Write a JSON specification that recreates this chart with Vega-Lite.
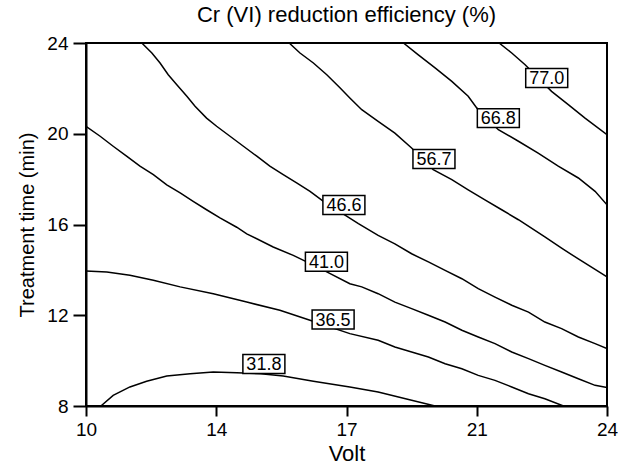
{
  "$schema": "https://vega.github.io/schema/vega-lite/v6.json",
  "width": 521,
  "height": 363,
  "autosize": {"type": "none"},
  "padding": {"left": 86, "top": 43, "right": 11, "bottom": 59},
  "config": {
    "font": "Liberation Sans",
    "view": {"stroke": "black", "strokeWidth": 2},
    "axis": {"grid": false, "domainColor": "black", "domainWidth": 2, "tickColor": "black", "tickWidth": 2, "labelColor": "black", "titleColor": "black", "labelFont": "Liberation Sans", "titleFont": "Liberation Sans", "titleFontWeight": "normal"}
  },
  "title": {"text": "Cr (VI) reduction efficiency (%)", "fontSize": 22, "fontWeight": "normal", "font": "Liberation Sans", "color": "black", "offset": 7},
  "datasets": {
    "lines": [
      {"level": "31.8", "volt": 10.40, "time": 8.0},
      {"level": "31.8", "volt": 10.73, "time": 8.47},
      {"level": "31.8", "volt": 11.18, "time": 8.84},
      {"level": "31.8", "volt": 11.63, "time": 9.09},
      {"level": "31.8", "volt": 12.17, "time": 9.32},
      {"level": "31.8", "volt": 12.80, "time": 9.42},
      {"level": "31.8", "volt": 13.42, "time": 9.50},
      {"level": "31.8", "volt": 14.05, "time": 9.47},
      {"level": "31.8", "volt": 14.70, "time": 9.42},
      {"level": "31.8", "volt": 15.30, "time": 9.32},
      {"level": "31.8", "volt": 16.11, "time": 9.09},
      {"level": "31.8", "volt": 17.09, "time": 8.84},
      {"level": "31.8", "volt": 17.85, "time": 8.62},
      {"level": "31.8", "volt": 18.75, "time": 8.25},
      {"level": "31.8", "volt": 19.38, "time": 8.0},

      {"level": "36.5", "volt": 10.0, "time": 13.95},
      {"level": "36.5", "volt": 10.56, "time": 13.91},
      {"level": "36.5", "volt": 11.18, "time": 13.76},
      {"level": "36.5", "volt": 11.81, "time": 13.54},
      {"level": "36.5", "volt": 12.53, "time": 13.25},
      {"level": "36.5", "volt": 13.42, "time": 12.95},
      {"level": "36.5", "volt": 14.32, "time": 12.58},
      {"level": "36.5", "volt": 15.21, "time": 12.22},
      {"level": "36.5", "volt": 16.02, "time": 11.78},
      {"level": "36.5", "volt": 17.09, "time": 11.19},
      {"level": "36.5", "volt": 17.85, "time": 10.90},
      {"level": "36.5", "volt": 18.30, "time": 10.60},
      {"level": "36.5", "volt": 18.75, "time": 10.38},
      {"level": "36.5", "volt": 19.20, "time": 10.16},
      {"level": "36.5", "volt": 19.65, "time": 9.86},
      {"level": "36.5", "volt": 20.10, "time": 9.64},
      {"level": "36.5", "volt": 20.54, "time": 9.35},
      {"level": "36.5", "volt": 20.99, "time": 9.13},
      {"level": "36.5", "volt": 21.44, "time": 8.84},
      {"level": "36.5", "volt": 21.89, "time": 8.54},
      {"level": "36.5", "volt": 22.33, "time": 8.32},
      {"level": "36.5", "volt": 22.83, "time": 8.0},

      {"level": "41.0", "volt": 10.0, "time": 20.33},
      {"level": "41.0", "volt": 10.38, "time": 19.89},
      {"level": "41.0", "volt": 10.73, "time": 19.45},
      {"level": "41.0", "volt": 11.09, "time": 19.01},
      {"level": "41.0", "volt": 11.45, "time": 18.57},
      {"level": "41.0", "volt": 11.81, "time": 18.20},
      {"level": "41.0", "volt": 12.17, "time": 17.75},
      {"level": "41.0", "volt": 12.53, "time": 17.39},
      {"level": "41.0", "volt": 12.88, "time": 17.02},
      {"level": "41.0", "volt": 13.24, "time": 16.65},
      {"level": "41.0", "volt": 13.60, "time": 16.29},
      {"level": "41.0", "volt": 14.05, "time": 15.88},
      {"level": "41.0", "volt": 14.32, "time": 15.59},
      {"level": "41.0", "volt": 15.03, "time": 15.01},
      {"level": "41.0", "volt": 15.57, "time": 14.64},
      {"level": "41.0", "volt": 15.93, "time": 14.35},
      {"level": "41.0", "volt": 16.47, "time": 13.91},
      {"level": "41.0", "volt": 17.09, "time": 13.39},
      {"level": "41.0", "volt": 17.41, "time": 13.25},
      {"level": "41.0", "volt": 17.85, "time": 12.95},
      {"level": "41.0", "volt": 18.30, "time": 12.58},
      {"level": "41.0", "volt": 18.75, "time": 12.29},
      {"level": "41.0", "volt": 19.20, "time": 12.00},
      {"level": "41.0", "volt": 19.65, "time": 11.70},
      {"level": "41.0", "volt": 20.10, "time": 11.34},
      {"level": "41.0", "volt": 20.54, "time": 11.04},
      {"level": "41.0", "volt": 20.99, "time": 10.75},
      {"level": "41.0", "volt": 21.44, "time": 10.38},
      {"level": "41.0", "volt": 21.89, "time": 10.09},
      {"level": "41.0", "volt": 22.33, "time": 9.79},
      {"level": "41.0", "volt": 22.78, "time": 9.50},
      {"level": "41.0", "volt": 23.23, "time": 9.20},
      {"level": "41.0", "volt": 23.68, "time": 8.91},
      {"level": "41.0", "volt": 24.0, "time": 8.81},

      {"level": "46.6", "volt": 11.50, "time": 24.0},
      {"level": "46.6", "volt": 11.77, "time": 23.56},
      {"level": "46.6", "volt": 11.99, "time": 23.12},
      {"level": "46.6", "volt": 12.21, "time": 22.60},
      {"level": "46.6", "volt": 12.44, "time": 22.16},
      {"level": "46.6", "volt": 12.71, "time": 21.65},
      {"level": "46.6", "volt": 12.93, "time": 21.21},
      {"level": "46.6", "volt": 13.24, "time": 20.69},
      {"level": "46.6", "volt": 13.51, "time": 20.33},
      {"level": "46.6", "volt": 13.87, "time": 19.89},
      {"level": "46.6", "volt": 14.23, "time": 19.45},
      {"level": "46.6", "volt": 14.59, "time": 19.01},
      {"level": "46.6", "volt": 14.94, "time": 18.57},
      {"level": "46.6", "volt": 15.30, "time": 18.20},
      {"level": "46.6", "volt": 15.66, "time": 17.83},
      {"level": "46.6", "volt": 16.02, "time": 17.46},
      {"level": "46.6", "volt": 16.38, "time": 17.02},
      {"level": "46.6", "volt": 17.32, "time": 16.04},
      {"level": "46.6", "volt": 17.85, "time": 15.52},
      {"level": "46.6", "volt": 18.30, "time": 15.15},
      {"level": "46.6", "volt": 18.75, "time": 14.71},
      {"level": "46.6", "volt": 19.20, "time": 14.35},
      {"level": "46.6", "volt": 19.65, "time": 13.98},
      {"level": "46.6", "volt": 20.10, "time": 13.61},
      {"level": "46.6", "volt": 20.54, "time": 13.17},
      {"level": "46.6", "volt": 20.99, "time": 12.80},
      {"level": "46.6", "volt": 21.44, "time": 12.44},
      {"level": "46.6", "volt": 21.89, "time": 12.14},
      {"level": "46.6", "volt": 22.33, "time": 11.70},
      {"level": "46.6", "volt": 22.78, "time": 11.41},
      {"level": "46.6", "volt": 23.23, "time": 11.04},
      {"level": "46.6", "volt": 23.68, "time": 10.75},
      {"level": "46.6", "volt": 24.0, "time": 10.53},

      {"level": "56.7", "volt": 15.46, "time": 24.0},
      {"level": "56.7", "volt": 15.75, "time": 23.56},
      {"level": "56.7", "volt": 16.11, "time": 23.12},
      {"level": "56.7", "volt": 16.47, "time": 22.60},
      {"level": "56.7", "volt": 16.83, "time": 22.02},
      {"level": "56.7", "volt": 17.09, "time": 21.58},
      {"level": "56.7", "volt": 17.41, "time": 21.06},
      {"level": "56.7", "volt": 17.85, "time": 20.55},
      {"level": "56.7", "volt": 18.30, "time": 20.03},
      {"level": "56.7", "volt": 18.75, "time": 19.37},
      {"level": "56.7", "volt": 19.33, "time": 18.42},
      {"level": "56.7", "volt": 19.83, "time": 17.98},
      {"level": "56.7", "volt": 20.27, "time": 17.53},
      {"level": "56.7", "volt": 20.72, "time": 17.09},
      {"level": "56.7", "volt": 21.17, "time": 16.65},
      {"level": "56.7", "volt": 21.62, "time": 16.21},
      {"level": "56.7", "volt": 22.33, "time": 15.45},
      {"level": "56.7", "volt": 22.78, "time": 14.96},
      {"level": "56.7", "volt": 23.23, "time": 14.48},
      {"level": "56.7", "volt": 23.68, "time": 14.02},
      {"level": "56.7", "volt": 24.0, "time": 13.69},

      {"level": "66.8", "volt": 18.53, "time": 24.0},
      {"level": "66.8", "volt": 18.93, "time": 23.48},
      {"level": "66.8", "volt": 19.38, "time": 22.90},
      {"level": "66.8", "volt": 19.83, "time": 22.31},
      {"level": "66.8", "volt": 20.27, "time": 21.65},
      {"level": "66.8", "volt": 20.50, "time": 21.14},
      {"level": "66.8", "volt": 21.08, "time": 20.18},
      {"level": "66.8", "volt": 21.62, "time": 19.67},
      {"level": "66.8", "volt": 22.15, "time": 19.15},
      {"level": "66.8", "volt": 22.69, "time": 18.57},
      {"level": "66.8", "volt": 23.23, "time": 18.05},
      {"level": "66.8", "volt": 23.68, "time": 17.46},
      {"level": "66.8", "volt": 24.0, "time": 16.87},

      {"level": "77.0", "volt": 21.10, "time": 24.0},
      {"level": "77.0", "volt": 21.44, "time": 23.56},
      {"level": "77.0", "volt": 21.80, "time": 23.04},
      {"level": "77.0", "volt": 22.51, "time": 21.87},
      {"level": "77.0", "volt": 22.96, "time": 21.28},
      {"level": "77.0", "volt": 23.41, "time": 20.69},
      {"level": "77.0", "volt": 24.0, "time": 19.96}
    ],
    "labels": [
      {"level": "77.0", "volt": 22.38, "time": 22.46},
      {"level": "66.8", "volt": 21.08, "time": 20.69},
      {"level": "56.7", "volt": 19.35, "time": 18.89},
      {"level": "46.6", "volt": 16.93, "time": 16.86},
      {"level": "41.0", "volt": 16.46, "time": 14.36},
      {"level": "36.5", "volt": 16.64, "time": 11.81},
      {"level": "31.8", "volt": 14.78, "time": 9.85}
    ]
  },
  "encoding": {
    "x": {"field": "volt", "type": "quantitative", "title": "Volt",
      "scale": {"domain": [10, 24], "nice": false, "zero": false},
      "axis": {"values": [10, 13.5, 17, 20.5, 24], "format": ".0f", "tickSize": 10, "labelFontSize": 19, "labelPadding": 4, "titleFontSize": 22, "titlePadding": 4, "labelFlush": false}},
    "y": {"field": "time", "type": "quantitative", "title": "Treatment time (min)",
      "scale": {"domain": [8, 24], "nice": false, "zero": false},
      "axis": {"values": [8, 12, 16, 20, 24], "tickSize": 13, "labelFontSize": 19, "labelPadding": 5, "titleFontSize": 20, "titlePadding": 9, "labelFlush": false}}
  },
  "layer": [
    {
      "data": {"name": "lines"},
      "mark": {"type": "line", "color": "black", "strokeWidth": 1.5, "clip": true},
      "encoding": {"detail": {"field": "level"}}
    },
    {
      "data": {"name": "labels"},
      "mark": {"type": "point", "shape": "M-1,-0.45L1,-0.45L1,0.45L-1,0.45Z", "size": 1764, "filled": false, "fill": "white", "fillOpacity": 1, "stroke": "black", "strokeWidth": 1.5, "opacity": 1}
    },
    {
      "data": {"name": "labels"},
      "mark": {"type": "text", "fontSize": 18, "color": "black", "font": "Liberation Sans", "dy": 1},
      "encoding": {"text": {"field": "level"}}
    }
  ]
}
